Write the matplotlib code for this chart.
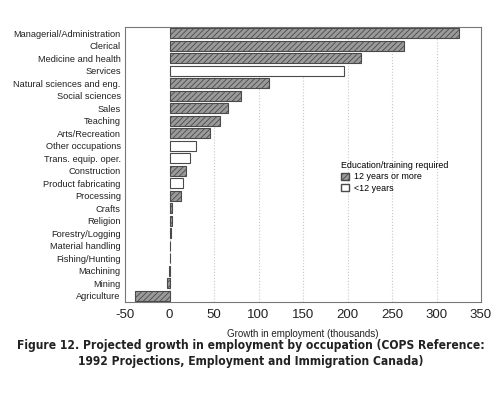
import matplotlib
matplotlib.use("Agg")
import matplotlib.pyplot as plt
from matplotlib.patches import Patch

categories = ["Managerial/Administration", "Clerical", "Medicine and health", "Services",
              "Natural sciences and eng.", "Social sciences", "Sales", "Teaching",
              "Arts/Recreation", "Other occupations", "Trans. equip. oper.", "Construction",
              "Product fabricating", "Processing", "Crafts", "Religion", "Forestry/Logging",
              "Material handling", "Fishing/Hunting", "Machining", "Mining", "Agriculture"]
growth = [325, 263, 215, 196, 112, 80, 66, 57, 45, 30, 23, 18, 15, 13, 3, 2.5, 1.2, 0.6,
          0.5, -1, -3, -39]
# True = 12 years or more, False = <12 years
high_edu = [True, True, True, False, True, True, True, True, True, False, False, True,
            False, True, True, True, True, True, True, True, True, True]
xticks = [-50, 0, 50, 100, 150, 200, 250, 300, 350]

plt.rcParams['hatch.color'] = '#c8c8c8'
plt.rcParams['hatch.linewidth'] = 0.6
font = ['Liberation Sans', 'DejaVu Sans']
plt.rcParams['font.family'] = font

fig = plt.figure(figsize=(5.01, 3.95), dpi=100)
ax = fig.add_axes([0.2495, 0.2354, 0.7106, 0.6962])

ypos = list(range(len(categories)))
for y, v, h in zip(ypos, growth, high_edu):
    if h:
        ax.barh(y, v, height=0.78, color='#9a9a9a', edgecolor='#4a4a4a', linewidth=0.8,
                hatch='//////', zorder=3)
    else:
        ax.barh(y, v, height=0.78, color='white', edgecolor='#4a4a4a', linewidth=0.8, zorder=3)

ax.set_ylim(len(categories) - 0.5, -0.5)
ax.set_xlim(-50, 350)
ax.set_yticks(ypos)
ax.set_yticklabels(categories, fontsize=6.7, color='#222222')
ax.set_xticks(xticks)
ax.set_xticklabels([str(t) for t in xticks], fontsize=9.5, color='#222222')
ax.tick_params(axis='both', length=0, pad=3)
ax.tick_params(axis='x', pad=5)
for t in xticks[1:-1]:
    ax.axvline(t, color='#c8c8c8', linestyle=':', linewidth=0.8, zorder=1)
for s in ax.spines.values():
    s.set_color('#777777')
    s.set_linewidth(0.8)

ax.set_xlabel("Growth in employment (thousands)", fontsize=7, color='#222222', labelpad=6)

handles = [Patch(facecolor='#9a9a9a', edgecolor='#4a4a4a', hatch='//////', label='12 years or more'),
           Patch(facecolor='white', edgecolor='#4a4a4a', label='<12 years')]
leg = ax.legend(handles=handles, title="Education/training required", loc='upper left',
                bbox_to_anchor=(335 / 501, 1 - 155 / 395), bbox_transform=fig.transFigure,
                frameon=False, fontsize=6.4, title_fontsize=6.4, handlelength=0.9,
                handleheight=0.9, handletextpad=0.5, labelspacing=0.25, borderpad=0.2,
                alignment='left')

lines = ["Figure 12. Projected growth in employment by occupation (COPS Reference:",
         "1992 Projections, Employment and Immigration Canada)"]
ys = [1 - 345 / 395, 1 - 362 / 395]
texts = []
for s, yy in zip(lines, ys):
    texts.append(fig.text(0.5, yy, s, ha='center', va='center', fontsize=9.5,
                          fontweight='bold', family=['DejaVu Sans'], stretch='condensed',
                          color='#222222'))
# shrink caption if it is wider than the target span
fig.canvas.draw()
r = fig.canvas.get_renderer()
w = texts[0].get_window_extent(r).width
target = 470
if w > target:
    for t in texts:
        t.set_fontsize(9.5 * target / w)

fig.savefig("out.png", dpi=100, facecolor='white')
